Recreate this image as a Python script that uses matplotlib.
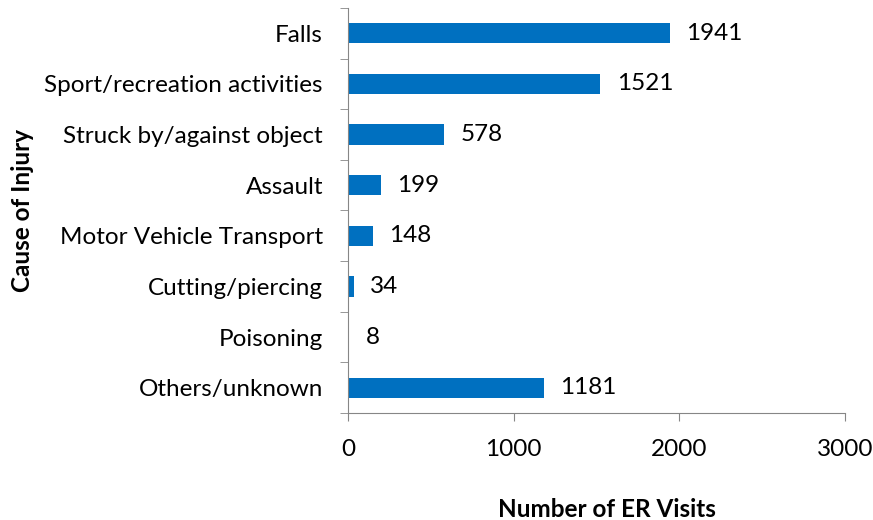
import matplotlib.pyplot as plt
import numpy as np

causes = ['Falls', 'Sport/recreation activities', 'Struck by/against object',
          'Assault', 'Motor Vehicle Transport', 'Cutting/piercing',
          'Poisoning', 'Others/unknown']
visits = [1941, 1521, 578, 199, 148, 34, 8, 1181]
xticks = [0, 1000, 2000, 3000]

plt.rcParams['font.family'] = ['Lato', 'DejaVu Sans']
fs = 17.5

fig = plt.figure(figsize=(8.73, 5.2), dpi=100)
ax = fig.add_axes([0.3986, 0.2058, 0.5694, 0.7788])

y = np.arange(len(causes))
ax.barh(y, visits, height=0.4, color='#0070C0')
for yi, v in zip(y, visits):
    ax.text(v + 100, yi, str(v), va='center', ha='left', fontsize=fs)

ax.set_ylim(len(causes) - 0.5, -0.5)
ax.set_xlim(0, 3000)
ax.set_yticks(y)
ax.set_yticklabels(causes, fontsize=fs)
ax.set_yticks(np.arange(len(causes) + 1) - 0.5, minor=True)
ax.tick_params(axis='y', which='major', length=0, pad=18)
ax.tick_params(axis='y', which='minor', length=6, color='#868686', direction='out')
ax.set_xticks(xticks)
ax.tick_params(axis='x', labelsize=fs, length=6, color='#868686', pad=13)

for s in ['top', 'right']:
    ax.spines[s].set_visible(False)
for s in ['left', 'bottom']:
    ax.spines[s].set_color('#868686')

fig.text(0.026, 0.5958, 'Cause of Injury', rotation=90, ha='center', va='center',
         fontsize=fs, fontweight='bold')
fig.text(0.695, 0.02, 'Number of ER Visits', ha='center', va='center',
         fontsize=fs, fontweight='bold')

fig.savefig('out.png', dpi=100)
